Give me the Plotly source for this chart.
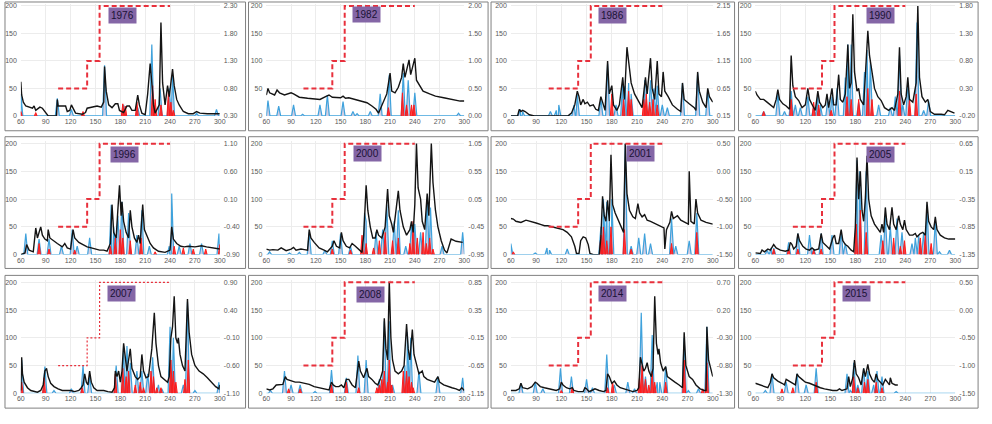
import plotly.graph_objects as go

W, H = 992, 424

YEARS = ["1976", "1982", "1986", "1990", "1996", "2000",
         "2001", "2005", "2007", "2008", "2014", "2015"]

DAY_TICKS = [60, 90, 120, 150, 180, 210, 240, 270, 300]
LEFT_TICKS = [0, 50, 100, 150, 200]
RIGHT_MIN = [0.30, 0.00, 0.15, -0.20, -0.90, -0.95,
             -1.50, -1.35, -1.10, -1.15, -1.30, -1.50]
RIGHT_STEP = 0.50

STEP_DAYS = [105, 140, 155, 240]
STEP_VALS = [50, 100, 200, 200]

# ---------------- black (daily series) ----------------
BLACK_1976 = [(60,62),(61,38),(63,25),(66,18),(74,14),(76,18),(78,10),(80,12),(83,16),(86,14),(88,10),(91,2),(93,0),(103,0),(104,30),(105,18),(114,18),(116,8),(119,10),(121,20),(123,15),(126,5),(134,3),(138,6),(140,14),(145,16),(152,18),(157,16),(160,25),(161,90),(163,45),(166,20),(170,15),(174,22),(177,22),(179,10),(184,6),(188,18),(191,18),(194,10),(198,10),(201,38),(203,20),(206,5),(210,2),(213,40),(216,95),(218,60),(220,20),(222,5),(227,20),(229,170),(231,60),(234,20),(237,55),(239,35),(241,60),(243,85),(245,55),(248,30),(251,20),(256,8),(262,4),(268,4),(272,8),(276,5),(285,4),(300,4)]
BLACK_1982 = [(60,38),(62,50),(64,42),(70,38),(73,47),(76,42),(82,38),(90,42),(93,40),(100,34),(110,32),(125,30),(133,36),(136,38),(140,34),(150,33),(153,36),(156,32),(160,33),(168,30),(175,28),(182,24),(188,18),(193,12),(196,5),(199,15),(203,28),(206,40),(210,78),(212,45),(216,42),(220,52),(224,70),(226,95),(228,70),(231,90),(233,102),(235,75),(238,95),(240,105),(242,65),(246,55),(250,45),(258,40),(265,36),(275,33),(285,30),(295,27),(300,27)]
BLACK_1986 = [(60,0),(68,0),(70,12),(72,8),(74,10),(77,8),(82,2),(88,0),(128,0),(132,5),(136,20),(139,45),(141,35),(143,20),(146,30),(148,22),(151,25),(154,18),(158,20),(161,12),(164,10),(167,35),(169,25),(172,10),(175,100),(177,40),(180,55),(182,20),(186,10),(189,20),(193,70),(195,30),(198,125),(200,100),(203,60),(207,40),(212,25),(216,15),(220,70),(222,40),(226,105),(228,50),(231,30),(234,100),(236,40),(239,35),(241,80),(243,45),(247,35),(252,20),(258,12),(262,8),(264,60),(266,30),(272,22),(278,15),(280,10),(282,80),(284,45),(288,25),(292,15),(294,50),(296,35),(300,25)]
BLACK_1990 = [(60,45),(62,38),(66,30),(70,30),(74,25),(78,20),(82,15),(85,30),(87,48),(89,30),(93,22),(97,18),(101,12),(103,110),(105,55),(108,35),(112,28),(116,15),(120,20),(123,50),(125,30),(129,18),(132,10),(135,45),(137,25),(141,15),(144,20),(146,40),(148,15),(152,50),(154,20),(157,20),(160,75),(162,30),(165,25),(168,40),(171,130),(173,50),(175,60),(177,185),(179,80),(182,45),(184,50),(186,30),(190,20),(193,100),(195,155),(197,110),(200,80),(203,50),(207,35),(211,28),(215,15),(220,10),(224,15),(227,10),(231,40),(233,125),(235,40),(238,20),(241,35),(243,70),(245,30),(249,25),(253,60),(255,200),(257,70),(260,35),(264,25),(267,30),(270,8),(275,3),(283,3),(287,2),(291,10),(295,8),(299,5)]
BLACK_1996 = [(60,0),(65,3),(67,18),(70,8),(75,5),(78,48),(80,30),(82,42),(84,50),(86,35),(89,28),(92,25),(93,45),(95,30),(99,25),(104,20),(110,14),(113,20),(116,12),(120,10),(123,45),(125,30),(130,22),(135,18),(140,14),(145,12),(150,10),(155,8),(160,8),(164,6),(168,20),(170,90),(172,40),(175,30),(177,80),(179,125),(181,70),(182,95),(184,60),(187,40),(190,30),(192,80),(194,50),(197,30),(200,22),(202,35),(204,20),(207,90),(209,45),(212,35),(216,20),(220,12),(226,6),(234,4),(240,8),(242,50),(244,28),(248,20),(253,15),(257,14),(262,15),(270,14),(278,16),(284,14),(292,12),(300,10)]
BLACK_2000 = [(60,10),(64,8),(68,9),(74,8),(78,12),(84,7),(90,10),(93,13),(96,8),(102,10),(106,9),(110,8),(112,45),(114,30),(118,22),(124,12),(130,8),(134,5),(137,10),(140,15),(142,25),(145,15),(149,12),(151,40),(153,25),(157,15),(161,12),(164,20),(168,15),(172,10),(176,4),(178,35),(181,125),(183,80),(186,50),(189,30),(192,30),(194,45),(196,35),(200,30),(202,40),(204,50),(207,118),(209,70),(212,55),(214,40),(218,90),(220,115),(222,80),(226,50),(230,35),(234,45),(236,60),(238,40),(240,90),(242,200),(244,120),(247,100),(249,60),(252,45),(255,110),(257,70),(260,200),(262,130),(265,80),(268,50),(272,25),(276,8),(279,3),(282,20),(284,28),(290,24),(298,22)]
BLACK_2001 = [(60,65),(63,64),(66,60),(72,58),(78,62),(84,60),(90,57),(96,54),(100,52),(104,52),(110,50),(116,48),(122,45),(127,40),(132,32),(136,15),(138,2),(141,2),(143,25),(146,32),(149,30),(152,18),(154,2),(158,0),(165,0),(167,30),(169,105),(171,70),(173,60),(175,98),(177,60),(179,180),(181,90),(184,75),(188,60),(192,45),(194,40),(196,200),(198,110),(201,80),(205,68),(208,65),(211,92),(213,75),(216,68),(219,72),(222,62),(226,60),(232,56),(238,52),(242,48),(243,10),(245,45),(249,58),(251,78),(253,65),(256,68),(258,70),(262,62),(268,58),(271,55),(272,150),(274,60),(278,55),(280,100),(282,75),(286,62),(292,58),(300,55)]
BLACK_2005 = [(60,3),(66,2),(68,8),(71,5),(75,10),(78,8),(82,18),(85,12),(90,8),(96,6),(100,8),(102,22),(104,18),(106,10),(109,15),(111,38),(113,25),(117,15),(121,10),(125,8),(128,12),(131,8),(136,10),(139,38),(141,22),(145,15),(149,10),(153,30),(155,35),(157,20),(160,20),(163,45),(165,25),(168,18),(171,15),(175,8),(178,5),(180,50),(182,175),(184,100),(186,150),(188,80),(190,60),(192,100),(194,178),(196,100),(199,70),(203,55),(207,45),(210,40),(212,55),(214,40),(216,85),(218,55),(221,45),(224,85),(226,55),(229,45),(232,70),(234,55),(237,45),(239,62),(241,45),(245,35),(249,35),(252,38),(254,32),(258,38),(261,40),(264,35),(266,95),(268,60),(271,50),(274,45),(276,68),(278,45),(282,35),(287,30),(292,28),(300,28)]
BLACK_2007 = [(60,5),(61,65),(62,35),(64,20),(68,10),(72,5),(80,2),(84,5),(87,15),(89,40),(91,45),(93,30),(96,18),(100,12),(105,8),(110,5),(115,5),(120,5),(125,3),(130,5),(133,10),(135,15),(137,35),(139,20),(141,15),(143,40),(145,20),(148,10),(152,5),(160,5),(165,3),(170,2),(173,10),(174,40),(176,30),(178,40),(180,20),(182,40),(184,90),(186,65),(188,40),(190,60),(192,80),(194,45),(198,30),(201,25),(204,30),(206,70),(208,40),(211,28),(214,30),(218,80),(221,145),(223,90),(226,50),(229,30),(233,25),(237,20),(239,30),(241,100),(243,120),(245,175),(247,100),(249,90),(250,100),(252,70),(255,50),(258,40),(261,170),(263,110),(266,70),(270,50),(275,40),(280,35),(285,28),(290,20),(295,12),(299,8),(300,15)]
BLACK_2008 = [(60,8),(64,6),(68,8),(72,15),(80,16),(83,30),(85,25),(90,22),(95,20),(100,20),(105,18),(112,16),(118,12),(125,10),(132,8),(136,6),(139,20),(141,15),(144,12),(148,12),(151,15),(154,10),(157,25),(160,25),(164,15),(168,10),(172,58),(174,40),(178,28),(182,45),(184,30),(188,25),(192,18),(195,15),(198,25),(201,40),(203,135),(205,80),(207,60),(209,200),(211,100),(213,60),(216,40),(220,35),(224,40),(227,50),(230,125),(232,80),(234,60),(237,115),(239,70),(242,50),(245,35),(249,40),(251,30),(255,25),(260,22),(264,20),(268,30),(270,20),(275,15),(280,12),(285,10),(290,8),(294,5),(297,10),(300,5)]
BLACK_2014 = [(60,5),(66,5),(70,8),(72,18),(74,10),(80,8),(85,12),(89,20),(91,18),(95,12),(100,10),(105,8),(110,7),(114,5),(118,8),(120,20),(122,15),(126,10),(130,8),(133,10),(135,5),(140,3),(146,3),(148,10),(150,8),(153,3),(156,5),(160,8),(165,5),(170,3),(173,5),(175,35),(177,30),(180,18),(183,22),(186,15),(190,10),(195,8),(200,5),(205,3),(210,5),(212,10),(214,65),(216,50),(218,40),(220,45),(222,55),(224,40),(227,30),(229,45),(231,175),(233,90),(235,70),(236,80),(238,55),(241,40),(244,48),(246,30),(250,25),(255,20),(260,15),(264,10),(266,110),(268,50),(272,30),(276,25),(280,15),(285,8),(290,5),(292,5),(293,120),(295,60),(300,30)]
BLACK_2015 = [(60,18),(65,15),(70,12),(75,10),(78,20),(80,35),(82,28),(87,22),(92,18),(95,15),(97,25),(100,22),(105,18),(108,15),(110,35),(112,30),(116,25),(120,20),(125,18),(130,15),(133,12),(138,10),(143,8),(148,6),(153,5),(158,5),(161,8),(164,5),(170,8),(172,30),(174,12),(177,28),(179,60),(181,35),(184,28),(187,15),(190,45),(192,30),(195,52),(197,35),(200,25),(203,20),(205,35),(207,25),(210,20),(213,15),(216,25),(218,20),(221,15),(222,28),(224,18),(228,15),(231,15)]

# ---------------- blue peaks (day, value) ----------------
BLUE_1976 = [(60,40),(104,32),(121,12),(161,92),(184,20),(201,15),(218,130),(228,50),(239,50),(243,75),(272,5),(296,12)]
BLUE_1982 = [(62,28),(75,18),(93,20),(104,3),(125,20),(134,38),(153,26),(165,8),(170,4),(186,8),(198,40),(209,75),(226,78),(232,65),(240,42),(293,5)]
BLUE_1986 = [(71,12),(74,8),(107,8),(114,10),(117,20),(135,20),(139,38),(167,30),(175,95),(185,20),(193,65),(196,55),(200,60),(203,40),(219,65),(221,50),(226,65),(230,50),(234,55),(240,20),(246,15),(264,60),(282,78),(294,48)]
BLUE_1990 = [(70,8),(87,40),(95,8),(103,45),(108,20),(114,15),(123,35),(130,15),(135,35),(138,20),(147,30),(152,35),(158,50),(168,70),(171,130),(175,130),(184,25),(191,80),(194,120),(198,100),(208,20),(222,15),(228,35),(233,110),(237,20),(243,60),(254,170),(262,10),(268,28)]
BLUE_1996 = [(66,38),(82,28),(94,28),(109,15),(122,45),(128,15),(143,30),(169,90),(172,50),(177,70),(182,95),(190,75),(200,35),(206,80),(215,15),(239,15),(242,110),(251,15),(264,20),(278,20),(299,38)]
BLUE_2000 = [(64,5),(88,3),(100,4),(112,40),(131,8),(140,25),(150,38),(162,15),(179,75),(181,60),(193,40),(201,45),(206,90),(215,60),(220,80),(229,15),(236,55),(240,55),(247,40),(255,100),(259,85),(273,15),(298,40)]
BLUE_2001 = [(60,20),(89,3),(103,12),(106,8),(127,10),(167,50),(170,100),(174,95),(177,60),(180,100),(196,200),(203,15),(212,30),(219,38),(226,20),(251,65),(256,15),(272,25),(281,75)]
BLUE_2005 = [(74,8),(79,12),(82,12),(100,22),(111,38),(125,35),(130,10),(139,38),(152,35),(163,42),(168,20),(182,170),(185,150),(193,150),(211,35),(216,70),(222,50),(230,65),(236,40),(248,20),(252,30),(256,35),(262,40),(266,90),(276,60),(281,5),(293,8)]
BLUE_2007 = [(61,60),(89,48),(100,5),(121,8),(135,50),(143,30),(175,50),(184,85),(188,85),(192,55),(200,40),(206,40),(213,35),(219,65),(226,15),(230,8),(240,120),(244,100),(256,15),(261,165),(270,5),(299,20)]
BLUE_2008 = [(65,5),(82,40),(90,15),(101,15),(119,3),(139,42),(157,28),(171,68),(181,60),(197,25),(203,130),(209,130),(213,15),(228,50),(231,110),(235,100),(245,40),(268,30),(298,28)]
BLUE_2014 = [(72,18),(89,20),(98,8),(119,45),(132,30),(150,25),(157,10),(174,70),(183,15),(199,20),(207,8),(215,145),(220,30),(228,105),(234,20),(237,20),(244,48),(266,100),(271,5),(283,8),(293,120)]
BLUE_2015 = [(72,5),(80,35),(97,20),(110,35),(121,15),(133,45),(170,35),(174,5),(178,55),(183,15),(190,45),(195,40),(202,15),(206,40),(212,30),(229,3)]

# ---------------- red peaks (day, value) ----------------
RED_1976 = [(60,8),(78,6),(135,8),(183,22),(186,18),(200,25),(219,55),(222,30),(229,20),(238,42),(241,25),(244,10)]
RED_1982 = [(208,15),(225,42),(230,20),(236,20),(239,20)]
RED_1986 = [(180,40),(194,30),(200,45),(203,30),(218,30),(221,40),(225,25),(229,30),(234,20)]
RED_1990 = [(70,8),(103,30),(130,25),(136,20),(151,10),(170,35),(175,30),(184,30),(195,50),(200,30),(233,45),(245,30),(253,40)]
RED_1996 = [(82,20),(94,10),(125,8),(168,15),(174,30),(180,45),(183,30),(192,25),(205,30),(222,5),(245,15),(256,12),(268,10),(283,10),(300,18)]
RED_2000 = [(140,10),(162,8),(176,35),(181,20),(190,12),(197,25),(204,40),(213,25),(220,30),(234,20),(238,60),(243,30),(250,40),(254,20),(258,30),(262,10)]
RED_2001 = [(63,5),(167,35),(170,50),(174,25),(179,50),(195,45),(203,10),(251,20),(281,40)]
RED_2005 = [(82,10),(100,10),(111,10),(130,8),(139,10),(181,55),(186,80),(193,40),(213,25),(226,30),(234,15),(239,25),(258,30),(264,35),(271,20)]
RED_2007 = [(61,20),(88,28),(134,10),(174,35),(183,45),(187,30),(190,40),(198,15),(204,20),(208,10),(217,40),(220,30),(224,10),(229,10),(241,60),(244,40),(247,20),(258,25),(262,60)]
RED_2008 = [(87,8),(101,8),(139,15),(157,20),(172,10),(194,10),(197,15),(200,25),(203,40),(207,20),(209,60),(212,15),(226,40),(230,40),(233,30),(236,20),(238,10)]
RED_2014 = [(120,5),(133,10),(175,10),(181,20),(213,30),(216,50),(220,25),(224,15),(228,40),(231,20),(244,20),(266,60),(288,8),(293,55)]
RED_2015 = [(92,8),(105,10),(133,20),(178,30),(183,10),(191,20),(195,25),(205,20),(212,10)]

BLACK_SERIES = [BLACK_1976, BLACK_1982, BLACK_1986, BLACK_1990, BLACK_1996, BLACK_2000,
                BLACK_2001, BLACK_2005, BLACK_2007, BLACK_2008, BLACK_2014, BLACK_2015]
BLUE_SERIES = [BLUE_1976, BLUE_1982, BLUE_1986, BLUE_1990, BLUE_1996, BLUE_2000,
               BLUE_2001, BLUE_2005, BLUE_2007, BLUE_2008, BLUE_2014, BLUE_2015]
RED_SERIES = [RED_1976, RED_1982, RED_1986, RED_1990, RED_1996, RED_2000,
              RED_2001, RED_2005, RED_2007, RED_2008, RED_2014, RED_2015]

# ---------------- layout (positions, styles) ----------------
LABEL_POS = [(183, 182), (182, 184), (181, 182), (210, 182), (185, 180), (183, 182),
             (214, 182), (210, 180), (182, 180), (186, 178), (181, 180), (182, 180)]
COL_PX = [(17, 218), (265, 465), (512, 716), (759, 961)]
ROW_PX = [(5, 116), (144, 256), (284, 396)]
BOX_COL = [(1, 244), (247, 489), (492, 738), (742, 984)]
BOX_ROW = [(1, 131), (137, 270), (277, 411)]
TOP_PAD = 4          # extra headroom (left-axis units) so the 200 step isn't clipped
SPIKE_HALF_BLUE = 2.4
SPIKE_HALF_RED = 1.7

TICK_FONT = dict(family="Liberation Sans", size=7, color="#595959")
BLUE = "#3fa2dc"
RED = "#ff1a1a"
STEP_RED = "#e8303c"


def spike_line(peaks, hw):
    """Continuous line through the peaks, resting on zero between them."""
    pts = [(60, 0.0)]
    for d, h in peaks:
        pts += [(d - hw, 0.0), (d, h), (d + hw, 0.0)]
    pts.append((300, 0.0))
    pts.sort(key=lambda p: p[0])
    return [p[0] for p in pts], [p[1] for p in pts]


def spike_segments(peaks, hw):
    """Separate spike segments (gaps between them) so the zero baseline stays blue."""
    xs, ys = [], []
    for d, h in peaks:
        xs += [d - hw, d, d + hw, None]
        ys += [0.0, h, 0.0, None]
    return xs, ys


fig = go.Figure()
layout = dict(width=W, height=H, margin=dict(l=0, r=0, t=0, b=0),
              paper_bgcolor="white", plot_bgcolor="white", showlegend=False,
              shapes=[], annotations=[])

for i, year in enumerate(YEARS):
    r, c = divmod(i, 4)
    n = i + 1
    nr = i + 13
    xname = "x" if n == 1 else f"x{n}"
    yname = "y" if n == 1 else f"y{n}"
    yrname = f"y{nr}"
    x0, x1 = COL_PX[c]
    y0, y1 = ROW_PX[r]
    ytop = y0 - TOP_PAD * (y1 - y0) / 200.0
    xdom = [x0 / W, x1 / W]
    ydom = [1 - y1 / H, 1 - ytop / H]
    ymax = 200 + TOP_PAD

    layout["xaxis" if n == 1 else f"xaxis{n}"] = dict(
        domain=xdom, anchor=yname, range=[60, 300], tickvals=DAY_TICKS,
        tickfont=TICK_FONT, showgrid=True, gridcolor="#ececec", gridwidth=1,
        zeroline=False, showline=False, ticks="", ticklabelstandoff=0)
    layout["yaxis" if n == 1 else f"yaxis{n}"] = dict(
        domain=ydom, anchor=xname, range=[0, ymax], tickvals=LEFT_TICKS,
        tickfont=TICK_FONT, showgrid=True, gridcolor="#ececec", gridwidth=1,
        zeroline=False, showline=False, ticks="", ticklabelstandoff=3)
    lo = RIGHT_MIN[i]
    rvals = [lo + k * RIGHT_STEP for k in range(5)]
    rmax = lo + 4 * RIGHT_STEP * ymax / 200.0
    layout[f"yaxis{nr}"] = dict(
        overlaying=yname, anchor=xname, side="right", range=[lo, rmax],
        tickvals=rvals, ticktext=[f"{v:.2f}" for v in rvals], tickfont=TICK_FONT,
        showgrid=False, zeroline=False, showline=False, ticks="", ticklabelstandoff=3)

    # invisible trace to carry the right-hand axis
    fig.add_trace(go.Scatter(x=[60, 300], y=[lo, lo + 4 * RIGHT_STEP], mode="lines",
                             line=dict(width=0, color="rgba(0,0,0,0)"),
                             hoverinfo="skip", xaxis=xname, yaxis=yrname))

    bx, by = spike_line(BLUE_SERIES[i], SPIKE_HALF_BLUE)
    fig.add_trace(go.Scatter(x=bx, y=by, mode="lines", line=dict(color=BLUE, width=1.2),
                             fill="tozeroy", fillcolor="rgba(125,115,175,0.35)",
                             xaxis=xname, yaxis=yname))
    rx, ry = spike_segments(RED_SERIES[i], SPIKE_HALF_RED)
    fig.add_trace(go.Scatter(x=rx, y=ry, mode="lines", line=dict(color=RED, width=1),
                             fill="tozeroy", fillcolor="rgba(255,20,20,0.8)",
                             connectgaps=False, xaxis=xname, yaxis=yname))
    k = BLACK_SERIES[i]
    fig.add_trace(go.Scatter(x=[p[0] for p in k], y=[p[1] for p in k], mode="lines",
                             line=dict(color="#141414", width=1.4),
                             xaxis=xname, yaxis=yname))
    if year == "2007":
        step_line = dict(color=STEP_RED, width=1.2, dash="2px,2px")
    else:
        step_line = dict(color=STEP_RED, width=2, dash="5px,3px")
    fig.add_trace(go.Scatter(x=STEP_DAYS, y=STEP_VALS, mode="lines", line_shape="hv",
                             line=step_line, xaxis=xname, yaxis=yname))

    lx, ly = LABEL_POS[i]
    layout["annotations"].append(dict(
        x=lx, y=ly, xref=xname, yref=yname, text=year, showarrow=False,
        font=dict(family="Liberation Sans", size=10, color="#1a1235"),
        bgcolor="#8466a6", borderpad=2))

    bx0, bx1 = BOX_COL[c]
    by0, by1 = BOX_ROW[r]
    layout["shapes"].append(dict(
        type="rect", xref="paper", yref="paper",
        x0=bx0 / W, x1=bx1 / W, y0=1 - by1 / H, y1=1 - by0 / H,
        line=dict(color="#808080", width=1), fillcolor="rgba(0,0,0,0)", layer="below"))

fig.update_layout(**layout)
fig.write_html("out.html", config={"displayModeBar": False},
               post_script="document.body.style.margin='0';")
